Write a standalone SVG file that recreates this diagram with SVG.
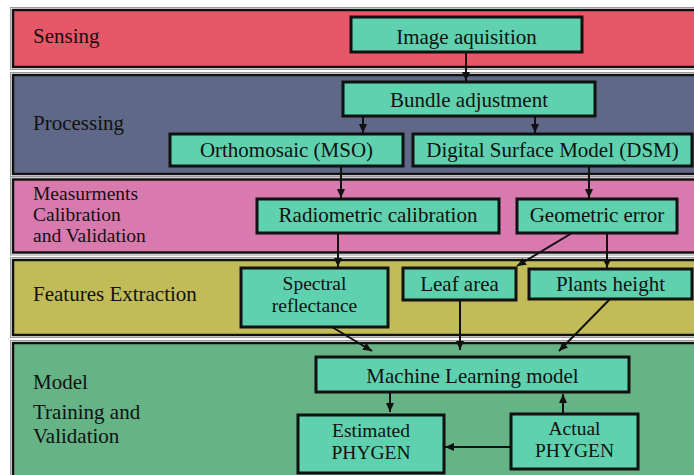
<svg xmlns="http://www.w3.org/2000/svg" width="694" height="475" viewBox="0 0 694 475">
<defs>
<style>
.band{stroke:#111;stroke-width:2.5}
.halo{fill:none;stroke:#9a9a9a;stroke-width:1}
.node rect{fill:#5fd1ae;stroke:#111;stroke-width:3}
text{font-family:"Liberation Serif","Times New Roman",serif;font-size:21px;fill:#111}
.m{font-size:19.5px}
.c{text-anchor:middle}
.conn line{stroke:#111;stroke-width:2;marker-end:url(#ah)}
</style>
<marker id="ah" markerUnits="userSpaceOnUse" markerWidth="10" markerHeight="10" viewBox="0 0 10 10" refX="9" refY="5" orient="auto">
<path d="M0,1 L9,5 L0,9 Z" fill="#111"/>
</marker>
</defs>
<rect width="694" height="475" fill="#fff"/>
<g id="bands">
<rect class="halo" x="10.5" y="7.5" width="700" height="62"/>
<rect class="band" x="13" y="10" width="700" height="57" fill="#e65868"/>
<rect class="halo" x="10.5" y="72.5" width="700" height="104"/>
<rect class="band" x="13" y="75" width="700" height="99" fill="#5f6886"/>
<rect class="halo" x="10.5" y="177" width="700" height="78"/>
<rect class="band" x="13" y="179.5" width="700" height="73" fill="#d97aaf"/>
<rect class="halo" x="10.5" y="257.5" width="700" height="80"/>
<rect class="band" x="13" y="260" width="700" height="75" fill="#c2bc58"/>
<rect class="halo" x="10.5" y="340.5" width="700" height="150"/>
<rect class="band" x="13" y="343" width="700" height="145" fill="#66b385"/>
<text x="33" y="43">Sensing</text>
<text x="33" y="130">Processing</text>
<text class="m" x="33" y="200">Measurments</text>
<text class="m" x="33" y="221">Calibration</text>
<text class="m" x="33" y="242">and Validation</text>
<text x="33" y="301">Features Extraction</text>
<text x="33" y="389">Model</text>
<text x="33" y="419">Training and</text>
<text x="33" y="443">Validation</text>
</g>
<g id="connectors" class="conn">
<line x1="466" y1="52" x2="466" y2="81"/>
<line x1="363" y1="116" x2="363" y2="133"/>
<line x1="535" y1="116" x2="535" y2="133"/>
<line x1="341" y1="166" x2="341" y2="198"/>
<line x1="589" y1="166" x2="589" y2="198"/>
<line x1="338" y1="233" x2="338" y2="267"/>
<line x1="572" y1="233" x2="517" y2="266"/>
<line x1="607" y1="233" x2="607" y2="268"/>
<line x1="332" y1="327" x2="372" y2="351"/>
<line x1="460" y1="300" x2="460" y2="350"/>
<line x1="611" y1="298" x2="559" y2="351"/>
<line x1="390" y1="392" x2="390" y2="412"/>
<line x1="563" y1="414" x2="563" y2="394"/>
<line x1="510" y1="447" x2="445" y2="447"/>
</g>
<g id="n-image" class="node"><rect x="351" y="17" width="231" height="35"/><text class="c" x="466.5" y="44">Image aquisition</text></g>
<g id="n-bundle" class="node"><rect x="343" y="82" width="252" height="34"/><text class="c" x="469" y="107">Bundle adjustment</text></g>
<g id="n-ortho" class="node"><rect x="170" y="134" width="233" height="32"/><text class="c" x="286.5" y="157">Orthomosaic (MSO)</text></g>
<g id="n-dsm" class="node"><rect x="413" y="134" width="279" height="32"/><text class="c" x="552.5" y="157">Digital Surface Model (DSM)</text></g>
<g id="n-radio" class="node"><rect x="257" y="199" width="242" height="34"/><text class="c" x="378" y="222">Radiometric calibration</text></g>
<g id="n-geo" class="node"><rect x="517" y="199" width="160" height="34"/><text class="c" x="597" y="222">Geometric error</text></g>
<g id="n-spectral" class="node"><rect x="241" y="268" width="147" height="59"/><text class="c m" x="314.5" y="290">Spectral</text><text class="c m" x="314.5" y="312">reflectance</text></g>
<g id="n-leaf" class="node"><rect x="403" y="268" width="113" height="32"/><text class="c" x="459.5" y="291">Leaf area</text></g>
<g id="n-plants" class="node"><rect x="529" y="269" width="163" height="30"/><text class="c" x="610.5" y="291">Plants height</text></g>
<g id="n-ml" class="node"><rect x="316" y="357" width="313" height="35"/><text class="c" x="472.5" y="383">Machine Learning model</text></g>
<g id="n-est" class="node"><rect x="298" y="415" width="146" height="58"/><text class="c m" x="371" y="437">Estimated</text><text class="c m" x="371" y="459">PHYGEN</text></g>
<g id="n-act" class="node"><rect x="511" y="414" width="127" height="55"/><text class="c m" x="574.5" y="435">Actual</text><text class="c m" x="574.5" y="457">PHYGEN</text></g>
</svg>
